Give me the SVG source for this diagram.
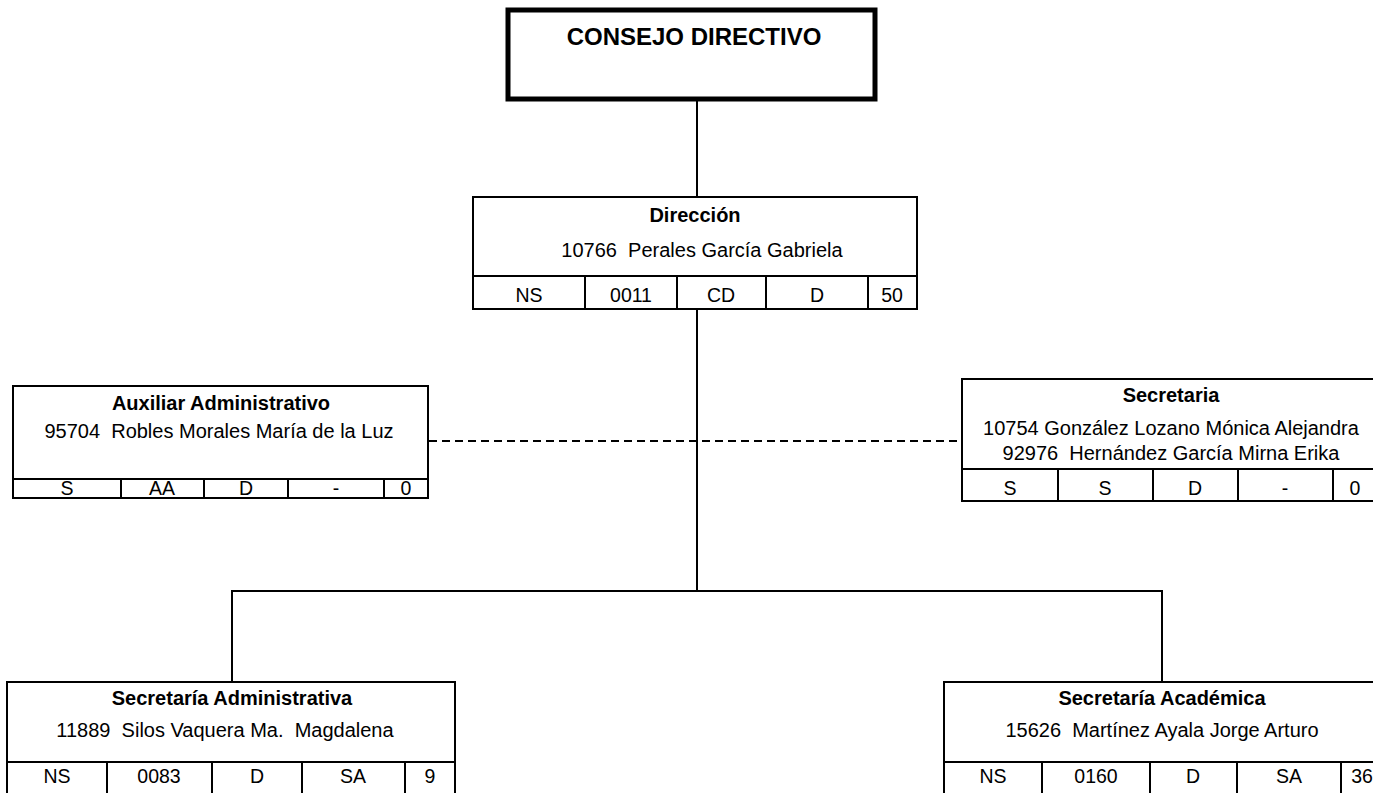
<svg xmlns="http://www.w3.org/2000/svg" width="1373" height="793" viewBox="0 0 1373 793">
<style>
text{font-family:"Liberation Sans Narrow","Arial Narrow","Liberation Sans",sans-serif;fill:#000;text-anchor:middle}
.t{font-size:20px;font-weight:bold}
.n{font-size:20px}
.c{font-size:19.5px}
.box{fill:#fff;stroke:#000;stroke-width:2}
.ln{stroke:#000;stroke-width:2;fill:none}
.dash{stroke:#000;stroke-width:2;fill:none;stroke-dasharray:8 5}
</style>
<rect width="1373" height="793" fill="#fff"/>
<g id="connectors">
<line class="ln" x1="697" y1="100" x2="697" y2="197"/>
<line class="ln" x1="697" y1="309" x2="697" y2="591"/>
<polyline class="ln" points="232,682 232,591 1162,591 1162,682"/>
<line class="dash" x1="429" y1="441" x2="962" y2="441"/>
</g>
<g id="consejo">
<rect x="508" y="10" width="367" height="89" fill="#fff" stroke="#000" stroke-width="5"/>
<text x="694" y="45" style="font-size:24px;font-weight:bold">CONSEJO DIRECTIVO</text>
</g>
<g id="direccion">
<rect class="box" x="473" y="197" width="444" height="112"/>
<path class="ln" d="M473 276H917M585 276V309M677 276V309M766 276V309M868 276V309"/>
<text class="t" x="695" y="222">Dirección</text>
<text class="n" x="702" y="257" xml:space="preserve">10766  Perales García Gabriela</text>
<text class="c" x="529" y="302">NS</text>
<text class="c" x="631" y="302">0011</text>
<text class="c" x="721" y="302">CD</text>
<text class="c" x="817" y="302">D</text>
<text class="c" x="892" y="302">50</text>
</g>
<g id="auxiliar">
<rect class="box" x="13" y="386" width="415" height="112"/>
<path class="ln" d="M13 479H428M121 479V498M204 479V498M288 479V498M384 479V498"/>
<text class="t" x="221" y="410">Auxiliar Administrativo</text>
<text class="n" x="219" y="438" xml:space="preserve">95704  Robles Morales María de la Luz</text>
<text class="c" x="67" y="495">S</text>
<text class="c" x="162" y="495">AA</text>
<text class="c" x="246" y="495">D</text>
<text class="c" x="336" y="495">-</text>
<text class="c" x="406" y="495">0</text>
</g>
<g id="secretaria">
<rect class="box" x="962" y="379" width="420" height="122"/>
<path class="ln" d="M962 469H1382M1058 469V501M1153 469V501M1238 469V501M1333 469V501"/>
<text class="t" x="1171" y="402">Secretaria</text>
<text class="n" x="1171" y="435">10754 González Lozano Mónica Alejandra</text>
<text class="n" x="1171" y="460" xml:space="preserve">92976  Hernández García Mirna Erika</text>
<text class="c" x="1010" y="495">S</text>
<text class="c" x="1105" y="495">S</text>
<text class="c" x="1195" y="495">D</text>
<text class="c" x="1285" y="495">-</text>
<text class="c" x="1355" y="495">0</text>
</g>
<g id="sec-admin">
<rect class="box" x="7" y="682" width="448" height="120"/>
<path class="ln" d="M7 762H455M107 762V800M212 762V800M302 762V800M405 762V800"/>
<text class="t" x="232" y="705">Secretaría Administrativa</text>
<text class="n" x="225" y="737" xml:space="preserve">11889  Silos Vaquera Ma.  Magdalena</text>
<text class="c" x="57" y="783">NS</text>
<text class="c" x="159" y="783">0083</text>
<text class="c" x="257" y="783">D</text>
<text class="c" x="353" y="783">SA</text>
<text class="c" x="430" y="783">9</text>
</g>
<g id="sec-academica">
<rect class="box" x="944" y="682" width="440" height="120"/>
<path class="ln" d="M944 762H1384M1042 762V800M1150 762V800M1237 762V800M1341 762V800"/>
<text class="t" x="1162" y="705">Secretaría Académica</text>
<text class="n" x="1162" y="737" xml:space="preserve">15626  Martínez Ayala Jorge Arturo</text>
<text class="c" x="993" y="783">NS</text>
<text class="c" x="1096" y="783">0160</text>
<text class="c" x="1193" y="783">D</text>
<text class="c" x="1289" y="783">SA</text>
<text class="c" x="1362" y="783">36</text>
</g>
</svg>
